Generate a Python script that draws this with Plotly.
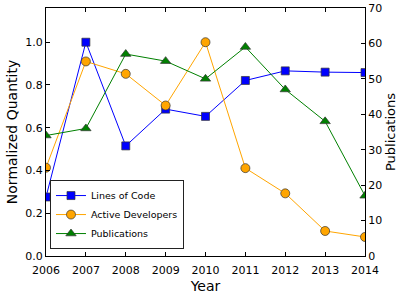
import plotly.graph_objects as go

years = [2006, 2007, 2008, 2009, 2010, 2011, 2012, 2013, 2014]
lines_of_code = [0.276, 1.0, 0.515, 0.687, 0.653, 0.821, 0.866, 0.860, 0.858]
active_devs = [0.413, 0.91, 0.852, 0.704, 1.0, 0.411, 0.293, 0.117, 0.089]
publications = [34, 36, 57, 55, 50, 59, 47, 38, 17]

font_family = "DejaVu Sans"
edge = dict(color="#333333", width=0.7)

fig = go.Figure()
fig.add_trace(go.Scatter(
    x=years, y=lines_of_code, name="Lines of Code", mode="lines+markers",
    line=dict(color="#0000ff", width=1),
    marker=dict(symbol="square", size=8, color="#0000ff", line=edge),
    yaxis="y"))
fig.add_trace(go.Scatter(
    x=years, y=active_devs, name="Active Developers", mode="lines+markers",
    line=dict(color="#ffa500", width=1),
    marker=dict(symbol="circle", size=9, color="#ffa500", line=edge),
    yaxis="y"))
fig.add_trace(go.Scatter(
    x=years, y=publications, name="Publications", mode="lines+markers",
    line=dict(color="#008000", width=1),
    marker=dict(symbol="triangle-up", size=9, color="#008000", line=edge),
    yaxis="y2"))

fig.update_layout(
    width=407, height=300,
    margin=dict(l=46, r=42, t=8, b=44, autoexpand=False),
    paper_bgcolor="white", plot_bgcolor="white",
    font=dict(family=font_family, color="black", size=11),
    showlegend=True,
    legend=dict(
        x=0.0125, y=0.028, xanchor="left", yanchor="bottom",
        bgcolor="white", bordercolor="#222222", borderwidth=1,
        font=dict(size=9.5, family=font_family),
        tracegroupgap=0, itemwidth=30,
    ),
    xaxis=dict(
        range=[2006, 2014], tickmode="array", tickvals=years,
        ticktext=[str(y) for y in years],
        showgrid=False, zeroline=False,
        showline=True, linecolor="black", linewidth=1, mirror="ticks",
        ticks="inside", ticklen=4, tickcolor="black",
        tickfont=dict(size=11), ticklabelstandoff=4,
        title=dict(text="Year", font=dict(size=14), standoff=4),
    ),
    yaxis=dict(
        range=[0, 1.16], tickmode="array",
        tickvals=[0.0, 0.2, 0.4, 0.6, 0.8, 1.0],
        ticktext=["0.0", "0.2", "0.4", "0.6", "0.8", "1.0"],
        showgrid=False, zeroline=False,
        showline=True, linecolor="black", linewidth=1,
        ticks="inside", ticklen=4, tickcolor="black",
        tickfont=dict(size=11),
        title=dict(text="Normalized Quantity", font=dict(size=14), standoff=4),
    ),
    yaxis2=dict(
        range=[0, 70], overlaying="y", side="right",
        tickmode="array", tickvals=[0, 10, 20, 30, 40, 50, 60, 70],
        showgrid=False, zeroline=False,
        showline=True, linecolor="black", linewidth=1,
        ticks="inside", ticklen=4, tickcolor="black",
        tickfont=dict(size=11),
        title=dict(text="Publications", font=dict(size=13), standoff=4),
    ),
)

fig.write_html(
    "out.html",
    config={"displayModeBar": False},
    post_script="document.body.style.margin='0';document.body.style.padding='0';",
)
